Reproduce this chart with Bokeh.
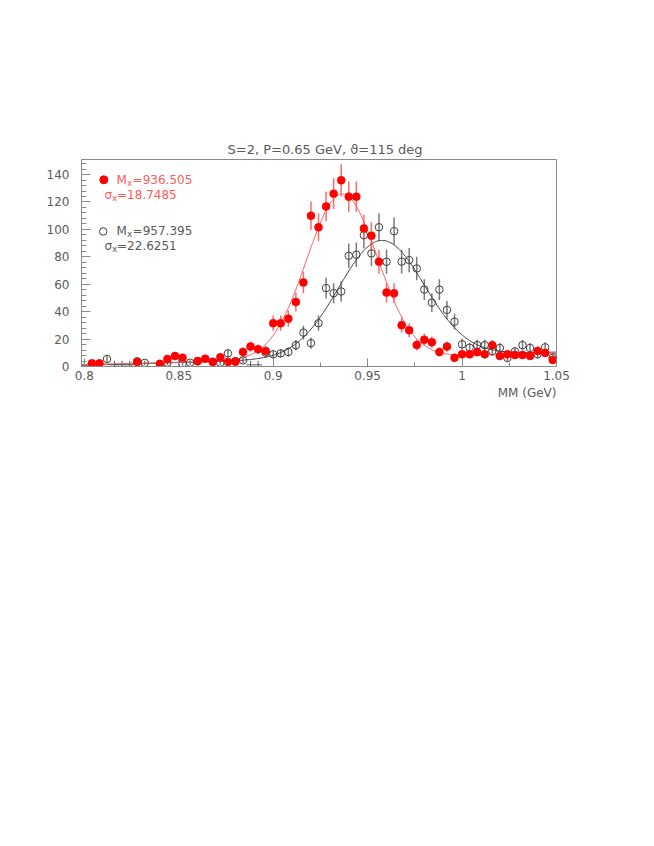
import numpy as np
from bokeh.plotting import figure
from bokeh.models import Range1d, FixedTicker, CustomJSTickFormatter, Label, ColumnDataSource, Title
from bokeh.embed import file_html
from bokeh.resources import INLINE

# ---------------- data ----------------
red_x = [0.804, 0.808, 0.828, 0.840, 0.844, 0.848, 0.852, 0.860, 0.864, 0.868,
         0.872, 0.876, 0.880, 0.884, 0.888, 0.892, 0.896, 0.900, 0.904, 0.908,
         0.912, 0.916, 0.920, 0.924, 0.928, 0.932, 0.936, 0.940, 0.944, 0.948,
         0.952, 0.956, 0.960, 0.964, 0.968, 0.972, 0.976, 0.980, 0.984, 0.988,
         0.992, 0.996, 1.000, 1.004, 1.008, 1.012, 1.016, 1.020, 1.024, 1.028,
         1.032, 1.036, 1.040, 1.044, 1.048]
red_y = [2.3, 2.3, 3.3, 2.0, 5.5, 7.7, 6.4, 4.0, 5.7, 3.3,
         6.7, 3.3, 3.5, 10.6, 14.5, 12.6, 11.3, 31.6, 31.6, 34.9,
         47.1, 61.3, 109.9, 101.5, 116.8, 126.1, 135.8, 123.9, 123.9, 100.7,
         95.4, 76.4, 53.9, 53.4, 30.1, 26.5, 15.7, 19.6, 17.7, 10.6,
         14.5, 6.4, 8.9, 8.9, 10.6, 8.9, 15.5, 7.7, 8.9, 8.4,
         8.4, 7.7, 11.3, 9.9, 4.8]
red_err = [1.5, 1.5, 1.8, 1.4, 2.3, 2.8, 2.5, 2.0, 2.4, 1.8,
           2.6, 1.8, 1.9, 3.3, 3.8, 3.5, 3.4, 5.6, 5.6, 5.9,
           6.9, 7.8, 10.5, 10.1, 10.8, 11.2, 11.7, 11.1, 11.1, 10.0,
           9.8, 8.7, 7.3, 7.3, 5.5, 5.1, 4.0, 4.4, 4.2, 3.3,
           3.8, 2.5, 3.0, 3.0, 3.3, 3.0, 3.9, 2.8, 3.0, 2.9,
           2.9, 2.8, 3.4, 3.1, 2.2]

blk_x = [0.812, 0.828, 0.832, 0.844, 0.852, 0.856, 0.860, 0.868, 0.872, 0.876,
         0.880, 0.884, 0.896, 0.900, 0.904, 0.908, 0.912, 0.916, 0.920, 0.924,
         0.928, 0.932, 0.936, 0.940, 0.944, 0.948, 0.952, 0.956, 0.960, 0.964,
         0.968, 0.972, 0.976, 0.980, 0.984, 0.988, 0.992, 0.996, 1.000, 1.004,
         1.008, 1.012, 1.016, 1.020, 1.024, 1.028, 1.032, 1.036, 1.040, 1.044,
         1.048]
blk_y = [5.5, 3.8, 2.6, 2.8, 2.0, 2.8, 3.8, 3.5, 2.8, 9.6,
         4.0, 4.5, 10.1, 8.9, 9.6, 10.6, 15.5, 24.7, 17.0, 31.6,
         57.2, 53.5, 54.7, 80.8, 81.5, 95.8, 82.5, 101.6, 76.4, 98.7,
         76.5, 77.6, 71.5, 56.1, 46.6, 56.1, 41.3, 32.7, 16.2, 13.7,
         15.6, 15.6, 11.3, 13.5, 6.2, 11.0, 15.6, 13.5, 8.9, 14.0,
         6.4]
blk_err = [2.3, 1.9, 1.6, 1.7, 1.4, 1.7, 1.9, 1.9, 1.7, 3.1,
           2.0, 2.1, 3.2, 3.0, 3.1, 3.3, 3.9, 5.0, 4.1, 5.6,
           7.6, 7.3, 7.4, 9.0, 9.0, 9.8, 9.1, 10.1, 8.7, 9.9,
           8.7, 8.8, 8.5, 7.5, 6.8, 7.5, 6.4, 5.7, 4.0, 3.7,
           3.9, 3.9, 3.4, 3.7, 2.5, 3.3, 3.9, 3.7, 3.0, 3.7,
           2.5]

# empty bins drawn as small crosses
empty_x = [0.800, 0.816, 0.820, 0.824, 0.888, 0.892]
empty_y = [1.2, 1.2, 1.2, 1.2, 1.2, 1.2]

# fit parameters (GeV)
red_M, red_sigma, red_amp, red_bg0, red_bg1 = 0.936505, 0.0187485, 120.0, 1.5, 9.5
blk_M, blk_sigma, blk_amp, blk_bg0, blk_bg1 = 0.957395, 0.0226251, 85.0, 1.0, 10.5

x_ticks = [0.8, 0.85, 0.9, 0.95, 1.0, 1.05]
x_minor = [0.825, 0.875, 0.925, 0.975, 1.025]
y_ticks = [0, 20, 40, 60, 80, 100, 120, 140]
y_minor = [v for v in range(0, 152, 4) if v % 20 != 0]

X0, X1 = 0.7985, 1.05
Y0, Y1 = 0.0, 151.0

def fit_curve(xs, M, s, A, b0, b1):
    return A * np.exp(-0.5 * ((xs - M) / s) ** 2) + b0 + (b1 - b0) * (xs - 0.8) / 0.25

GRAY = "#8a8a8a"
TXT = "#5a5a5a"
RED_TXT = "#ff5a5a"

# ---------------- figure ----------------
p = figure(width=638, height=830, x_range=Range1d(X0, X1), y_range=Range1d(Y0, Y1),
           output_backend="svg", toolbar_location=None,
           title="S=2, P=0.65 GeV, ϑ=115 deg",
           min_border_left=81, min_border_right=82, min_border_top=159, min_border_bottom=464)
p.background_fill_color = "white"
p.border_fill_color = "white"
p.outline_line_color = GRAY
p.outline_line_width = 1
p.xgrid.visible = False
p.ygrid.visible = False

p.title.align = "left"
p.title.offset = 146
p.title.standoff = 5
p.title.text_font = "DejaVu Sans"
p.title.text_font_size = "13px"
p.title.text_font_style = "normal"
p.title.text_color = TXT

for ax in (p.xaxis[0], p.yaxis[0]):
    ax.axis_line_color = GRAY
    ax.major_tick_line_color = GRAY
    ax.minor_tick_line_color = GRAY
    ax.major_tick_out = 0
    ax.minor_tick_out = 0
    ax.major_label_text_font = "DejaVu Sans"
    ax.major_label_text_font_size = "12px"
    ax.major_label_text_color = TXT

p.xaxis.ticker = FixedTicker(ticks=x_ticks, minor_ticks=x_minor)
p.xaxis.formatter = CustomJSTickFormatter(code="return (Math.round(tick*1000)/1000).toString();")
p.xaxis.major_tick_in = 8
p.xaxis.minor_tick_in = 4
p.xaxis.major_label_standoff = 4

p.yaxis.ticker = FixedTicker(ticks=y_ticks, minor_ticks=y_minor)
p.yaxis.major_tick_in = 9
p.yaxis.minor_tick_in = 5
p.yaxis.major_label_standoff = 12

xlab = Title(text="MM (GeV)", align="right", text_font="DejaVu Sans", text_font_size="12px",
             text_font_style="normal", text_color=TXT, standoff=3)
p.add_layout(xlab, "below")

# fit curves
xs = np.linspace(X0, X1, 400)
blk_curve = fit_curve(xs, blk_M, blk_sigma, blk_amp, blk_bg0, blk_bg1)
red_curve = fit_curve(xs, red_M, red_sigma, red_amp, red_bg0, red_bg1)

# error bars
bsrc = ColumnDataSource(dict(x=blk_x, y=blk_y,
                             lo=[y - e for y, e in zip(blk_y, blk_err)],
                             hi=[y + e for y, e in zip(blk_y, blk_err)]))
rsrc = ColumnDataSource(dict(x=red_x, y=red_y,
                             lo=[y - e for y, e in zip(red_y, red_err)],
                             hi=[y + e for y, e in zip(red_y, red_err)]))

p.segment(x0="x", y0="lo", x1="x", y1="hi", source=bsrc, line_color="#7a7a7a", line_width=1.5)
p.segment(x0="x", y0="lo", x1="x", y1="hi", source=rsrc, line_color="#ff6a6a", line_width=1.5)

p.scatter(empty_x, empty_y, marker="cross", size=8, line_color="#555555", line_width=1)

p.line(xs, blk_curve, line_color="#404040", line_width=1)
p.line(xs, red_curve, line_color="#ff6060", line_width=1)

p.scatter(x="x", y="y", source=bsrc, marker="circle", size=7.5,
          fill_color=None, line_color="#404040", line_width=1)
p.scatter(x="x", y="y", source=rsrc, marker="circle", size=8,
          fill_color="#ff0000", line_color="#ff0000", line_width=0.5)

# legend markers
p.scatter([0.8103], [136.2], marker="circle", size=8, fill_color="#ff0000", line_color="#ff0000")
p.scatter([0.8100], [98.5], marker="circle", size=7.5, fill_color=None, line_color="#404040", line_width=1)

def lab(x, y, text, color, size="12px"):
    p.add_layout(Label(x=x, y=y, text=text, text_color=color, text_font="DejaVu Sans",
                       text_font_size=size, text_align="left", text_baseline="alphabetic"))

# red legend text
lab(0.81707, 136.4, "M", RED_TXT)
lab(0.82264, 134.2, "x", RED_TXT, "9px")
lab(0.82556, 136.4, "=936.505", RED_TXT)
lab(0.81070, 125.1, "σ", RED_TXT)
lab(0.81468, 122.9, "x", RED_TXT, "9px")
lab(0.81733, 125.1, "=18.7485", RED_TXT)
# black legend text
lab(0.81707, 99.2, "M", TXT)
lab(0.82264, 97.0, "x", TXT, "9px")
lab(0.82556, 99.2, "=957.395", TXT)
lab(0.81070, 87.9, "σ", TXT)
lab(0.81468, 85.7, "x", TXT, "9px")
lab(0.81733, 87.9, "=22.6251", TXT)

open("out.html", "w").write(file_html(p, INLINE))
